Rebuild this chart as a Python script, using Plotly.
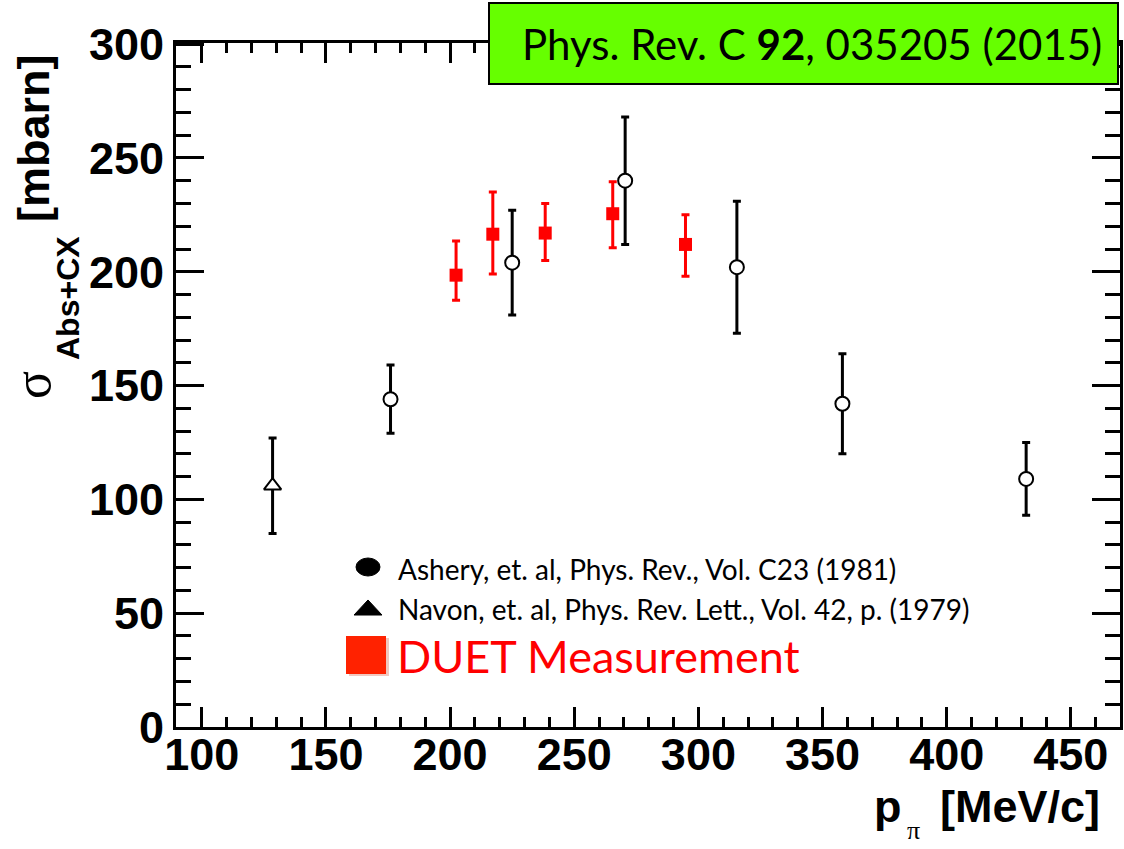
import plotly.graph_objects as go

# Ashery et al. (1981) open circles
ashery_p = [176, 225, 270.5, 315.5, 358, 432]
ashery_sigma = [144, 204, 240, 202, 142, 109]
ashery_err = [15, 23, 28, 29, 22, 16]

# Navon et al. (1979) open triangle
navon_p = [128.5]
navon_sigma = [106]
navon_err = [21]

# DUET measurement, asymmetric uncertainties
duet_p = [202.4, 217.2, 238.3, 265.5, 294.8]
duet_sigma = [198.5, 216.5, 217.0, 225.5, 212.0]
duet_err_up = [15.0, 18.5, 13.0, 14.0, 13.0]
duet_err_dn = [11.0, 17.5, 12.0, 15.0, 14.0]

x_ticks = [100, 150, 200, 250, 300, 350, 400, 450]
y_ticks = [0, 50, 100, 150, 200, 250, 300]

legend_labels = [
    "Ashery, et. al, Phys. Rev., Vol. C23 (1981)",
    "Navon, et. al, Phys. Rev. Lett., Vol. 42, p. (1979)",
    "DUET Measurement",
]

# frame geometry in pixels (plot area)
L, R, T, B = 176, 1120, 43, 727
W, H = 1124, 849


def px(xp):
    return (xp - L) / (R - L)


def py(yp):
    return (B - yp) / (B - T)


fig = go.Figure()

fig.add_trace(go.Scatter(
    x=navon_p, y=navon_sigma, mode="markers",
    marker=dict(symbol="triangle-up", size=15, color="white",
                line=dict(color="black", width=2)),
    error_y=dict(type="data", array=navon_err, thickness=3, width=4, color="black"),
    showlegend=False,
))
fig.add_trace(go.Scatter(
    x=ashery_p, y=ashery_sigma, mode="markers",
    marker=dict(symbol="circle", size=14, color="white",
                line=dict(color="black", width=2)),
    error_y=dict(type="data", array=ashery_err, thickness=3, width=4, color="black"),
    showlegend=False,
))
fig.add_trace(go.Scatter(
    x=duet_p, y=duet_sigma, mode="markers",
    marker=dict(symbol="square", size=13, color="#FF0000",
                line=dict(color="#FF0000", width=0)),
    error_y=dict(type="data", symmetric=False, array=duet_err_up,
                 arrayminus=duet_err_dn, thickness=3, width=4, color="#FF0000"),
    showlegend=False,
))

tick_font = dict(family="Liberation Sans", size=45, color="black", weight="bold")

fig.update_xaxes(
    range=[89.6, 469.8], tickvals=x_ticks, ticktext=[str(v) for v in x_ticks],
    showline=True, linewidth=3, linecolor="black", mirror="allticks",
    ticks="inside", ticklen=20, tickwidth=3, tickcolor="black",
    minor=dict(dtick=10, ticks="inside", ticklen=10, tickwidth=3, tickcolor="black"),
    showgrid=False, zeroline=False, tickfont=tick_font, ticklabelstandoff=-14,
)
fig.update_yaxes(
    range=[0, 300.5], tickvals=y_ticks, ticktext=[str(v) for v in y_ticks],
    showline=True, linewidth=3, linecolor="black", mirror="allticks",
    ticks="inside", ticklen=28, tickwidth=3, tickcolor="black",
    minor=dict(dtick=10, ticks="inside", ticklen=15, tickwidth=3, tickcolor="black"),
    showgrid=False, zeroline=False, tickfont=tick_font, ticklabelstandoff=0,
)

shapes = []
annotations = []

# publication box
shapes.append(dict(type="rect", xref="paper", yref="paper", layer="above",
                   x0=px(489), x1=px(1118), y0=py(84), y1=py(3),
                   fillcolor="#66FF00", line=dict(color="black", width=2)))
annotations.append(dict(xref="paper", yref="paper", x=px(812), y=py(44),
                        xanchor="center", yanchor="middle", showarrow=False,
                        text="Phys. Rev. C <b>92</b>, 035205 (2015)",
                        font=dict(family="Lato", size=42, color="black")))

# legend keys
shapes.append(dict(type="circle", xref="paper", yref="paper", layer="above",
                   x0=px(356), x1=px(380), y0=py(576), y1=py(558),
                   fillcolor="black", line=dict(color="black", width=1)))
tri = "M {:.4f} {:.4f} L {:.4f} {:.4f} L {:.4f} {:.4f} Z".format(
    px(354), py(615), px(382), py(615), px(368), py(600))
shapes.append(dict(type="path", xref="paper", yref="paper", layer="above",
                   path=tri, fillcolor="black", line=dict(color="black", width=1)))
shapes.append(dict(type="rect", xref="paper", yref="paper", layer="above",
                   x0=px(349), x1=px(389), y0=py(676), y1=py(638),
                   fillcolor="#F0C8C0", line=dict(width=0)))
shapes.append(dict(type="rect", xref="paper", yref="paper", layer="above",
                   x0=px(346), x1=px(386), y0=py(674), y1=py(636),
                   fillcolor="#FF2200", line=dict(width=0)))

annotations.append(dict(xref="paper", yref="paper", x=px(396), y=py(569),
                        xanchor="left", yanchor="middle", showarrow=False,
                        text=legend_labels[0],
                        font=dict(family="Lato", size=28, color="black")))
annotations.append(dict(xref="paper", yref="paper", x=px(396), y=py(609),
                        xanchor="left", yanchor="middle", showarrow=False,
                        text=legend_labels[1],
                        font=dict(family="Lato", size=28, color="black")))
annotations.append(dict(xref="paper", yref="paper", x=px(395), y=py(656),
                        xanchor="left", yanchor="middle", showarrow=False,
                        text=legend_labels[2],
                        font=dict(family="Lato", size=45, color="#FF0000")))

# x-axis title
annotations.append(dict(xref="paper", yref="paper", x=px(888), y=py(806),
                        xanchor="center", yanchor="middle", showarrow=False,
                        text="p", font=dict(family="Liberation Sans", size=45,
                                            color="black", weight="bold")))
annotations.append(dict(xref="paper", yref="paper", x=px(913), y=py(847),
                        xanchor="center", yanchor="bottom", showarrow=False,
                        text="π", font=dict(family="Liberation Serif", size=26,
                                            color="black")))
annotations.append(dict(xref="paper", yref="paper", x=px(1020), y=py(806),
                        xanchor="center", yanchor="middle", showarrow=False,
                        text="[MeV/c]", font=dict(family="Liberation Sans", size=45,
                                                  color="black", weight="bold")))

# y-axis title
annotations.append(dict(xref="paper", yref="paper", x=px(34), y=py(138),
                        xanchor="center", yanchor="middle", showarrow=False,
                        textangle=-90, text="[mbarn]",
                        font=dict(family="Liberation Sans", size=45,
                                  color="black", weight="bold")))
annotations.append(dict(xref="paper", yref="paper", x=px(68), y=py(298),
                        xanchor="center", yanchor="middle", showarrow=False,
                        textangle=-90, text="Abs+CX",
                        font=dict(family="Liberation Sans", size=32,
                                  color="black", weight="bold")))
annotations.append(dict(xref="paper", yref="paper", x=px(32), y=py(385),
                        xanchor="center", yanchor="middle", showarrow=False,
                        textangle=-90, text="σ",
                        font=dict(family="Liberation Serif", size=52,
                                  color="black")))

fig.update_layout(
    width=W, height=H,
    margin=dict(l=L, r=W - R, t=T, b=H - B, autoexpand=False),
    paper_bgcolor="white", plot_bgcolor="white",
    shapes=shapes, annotations=annotations,
    showlegend=False,
)

fig.write_html("out.html")
